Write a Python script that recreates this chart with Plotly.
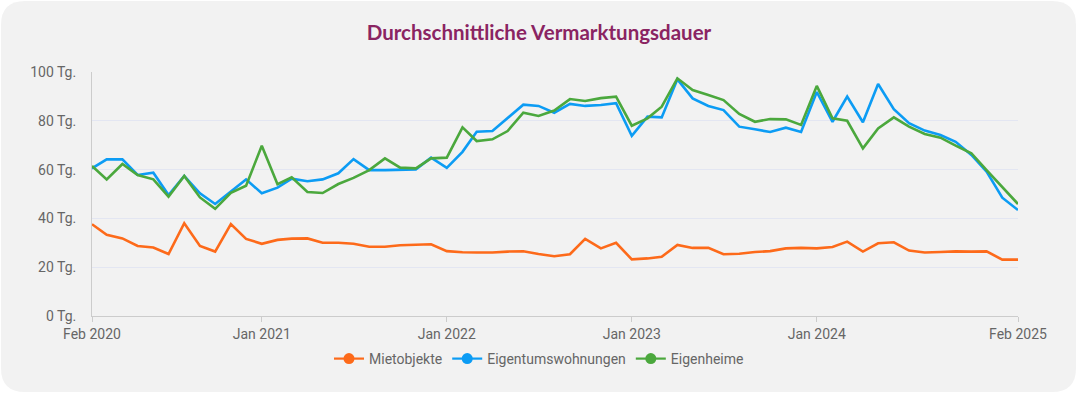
import plotly.graph_objects as go
import pandas as pd

months = pd.date_range("2020-02-01", "2025-02-01", freq="MS")

mietobjekte = [37.6, 33.3, 31.8, 28.7, 28.1, 25.4, 38.0, 28.7, 26.4, 37.7, 31.6, 29.6,
               31.2, 31.7, 31.8, 30.0, 30.0, 29.6, 28.4, 28.4, 29.0, 29.2, 29.4, 26.6,
               26.1, 26.0, 26.0, 26.4, 26.5, 25.4, 24.5, 25.3, 31.6, 27.7, 30.0, 23.2,
               23.6, 24.3, 29.1, 27.9, 27.9, 25.3, 25.5, 26.2, 26.6, 27.7, 27.9, 27.7,
               28.3, 30.5, 26.4, 29.8, 30.2, 26.8, 26.0, 26.2, 26.5, 26.4, 26.5, 23.1, 23.1]

eigentumswohnungen = [60.5, 64.2, 64.2, 57.8, 58.7, 49.6, 57.4, 50.3, 45.9, 51.2, 56.0, 50.3,
                      52.6, 56.3, 55.2, 56.0, 58.5, 64.3, 59.8, 59.8, 59.8, 60.1, 64.9, 60.7,
                      67.3, 75.5, 75.8, 81.3, 86.6, 86.1, 83.3, 86.9, 86.1, 86.5, 87.2, 73.8,
                      81.7, 81.4, 97.0, 89.2, 86.1, 84.4, 77.6, 76.5, 75.4, 77.2, 75.4, 91.8,
                      79.6, 89.9, 79.4, 95.1, 84.8, 79.0, 76.0, 74.2, 71.4, 66.0, 59.2, 48.5, 43.4]

eigenheime = [61.5, 56.0, 62.3, 57.8, 56.0, 48.9, 57.4, 48.6, 43.9, 50.5, 53.4, 69.8,
              54.0, 56.8, 50.8, 50.4, 54.1, 56.6, 59.8, 64.6, 60.8, 60.5, 64.6, 64.9,
              77.3, 71.7, 72.4, 75.8, 83.3, 82.0, 84.2, 88.9, 88.1, 89.3, 89.9, 78.0,
              81.0, 85.8, 97.4, 92.6, 90.6, 88.5, 82.8, 79.6, 80.7, 80.6, 78.3, 94.3,
              81.0, 80.0, 68.7, 76.9, 81.4, 77.6, 74.6, 73.1, 69.8, 66.7, 59.8, 53.0, 45.9]

series_names = ["Mietobjekte", "Eigentumswohnungen", "Eigenheime"]
series_colors = ["#FD6A1A", "#0C9CF4", "#4BA83D"]

tick_dates = ["2020-02-01", "2021-01-01", "2022-01-01", "2023-01-01", "2024-01-01", "2025-02-01"]
tick_labels = ["Feb 2020", "Jan 2021", "Jan 2022", "Jan 2023", "Jan 2024", "Feb 2025"]

W, H = 1078, 394
L, R, T, B = 92, 60, 72, 78
pw, ph = W - L - R, H - T - B

fig = go.Figure()
for name, vals, col in zip(series_names, [mietobjekte, eigentumswohnungen, eigenheime], series_colors):
    fig.add_trace(go.Scatter(
        x=months, y=vals, name=name, mode="lines", showlegend=False,
        line=dict(color=col, width=2.6),
    ))
for name, col in zip(series_names, series_colors):
    fig.add_trace(go.Scatter(
        x=[None], y=[None], name=name, mode="lines+markers", showlegend=True,
        line=dict(color=col, width=2.2), marker=dict(size=11, color=col),
    ))


def px2paper(x, y):
    return (x - L) / pw, (H - B - y) / ph

# rounded card
x0, y0, x1, y1, r = 1, 1, 1076, 392, 24
def P(x, y):
    a, b = px2paper(x, y)
    return f"{a:.5f},{b:.5f}"
path = (f"M {P(x0 + r, y0)} L {P(x1 - r, y0)} Q {P(x1, y0)} {P(x1, y0 + r)} "
        f"L {P(x1, y1 - r)} Q {P(x1, y1)} {P(x1 - r, y1)} "
        f"L {P(x0 + r, y1)} Q {P(x0, y1)} {P(x0, y1 - r)} "
        f"L {P(x0, y0 + r)} Q {P(x0, y0)} {P(x0 + r, y0)} Z")
fig.add_shape(type="path", path=path, xref="paper", yref="paper",
              fillcolor="#F2F2F2", line=dict(width=0), layer="below")

fig.update_layout(
    width=W, height=H,
    margin=dict(l=L, r=R, t=T, b=B),
    paper_bgcolor="white",
    plot_bgcolor="rgba(0,0,0,0)",
    title=dict(text="<b>Durchschnittliche Vermarktungsdauer</b>",
               x=0.5, xanchor="center", y=1 - 33 / H, yanchor="middle", yref="container",
               font=dict(family="Lato", size=20.5, color="#8A2462")),
    font=dict(family="Roboto", size=14, color="#666666"),
    showlegend=True,
    legend=dict(orientation="h", x=px2paper(539, 0)[0], xanchor="center",
                y=(H - B - 359) / ph, yanchor="middle",
                font=dict(family="Roboto", size=14, color="#666666"),
                bgcolor="rgba(0,0,0,0)", itemwidth=30, traceorder="normal"),
    xaxis=dict(
        range=[months[0], months[-1]],
        tickvals=tick_dates, ticktext=tick_labels,
        showgrid=False, showline=True, linecolor="#CCCCCC", linewidth=1,
        ticks="outside", ticklen=5, tickcolor="#CCCCCC", tickwidth=1,
        tickfont=dict(family="Roboto", size=14, color="#666666"),
        zeroline=False,
    ),
    yaxis=dict(
        range=[0, 100], dtick=20, ticksuffix=" Tg.",
        showgrid=True, gridcolor="#E3E6F2", gridwidth=1,
        showline=True, linecolor="#CCCCCC", linewidth=1,
        ticks="outside", ticklen=12, tickcolor="rgba(0,0,0,0)",
        tickfont=dict(family="Roboto", size=14, color="#666666"),
        zeroline=False,
    ),
    hovermode="x unified",
)

fig.write_html("out.html", config={"displayModeBar": False})

# remove default body margin so the figure sits at the page origin
with open("out.html", "r", encoding="utf-8") as f:
    html = f.read()
html = html.replace("<head>", "<head><style>html,body{margin:0;padding:0;}</style>", 1)
with open("out.html", "w", encoding="utf-8") as f:
    f.write(html)
